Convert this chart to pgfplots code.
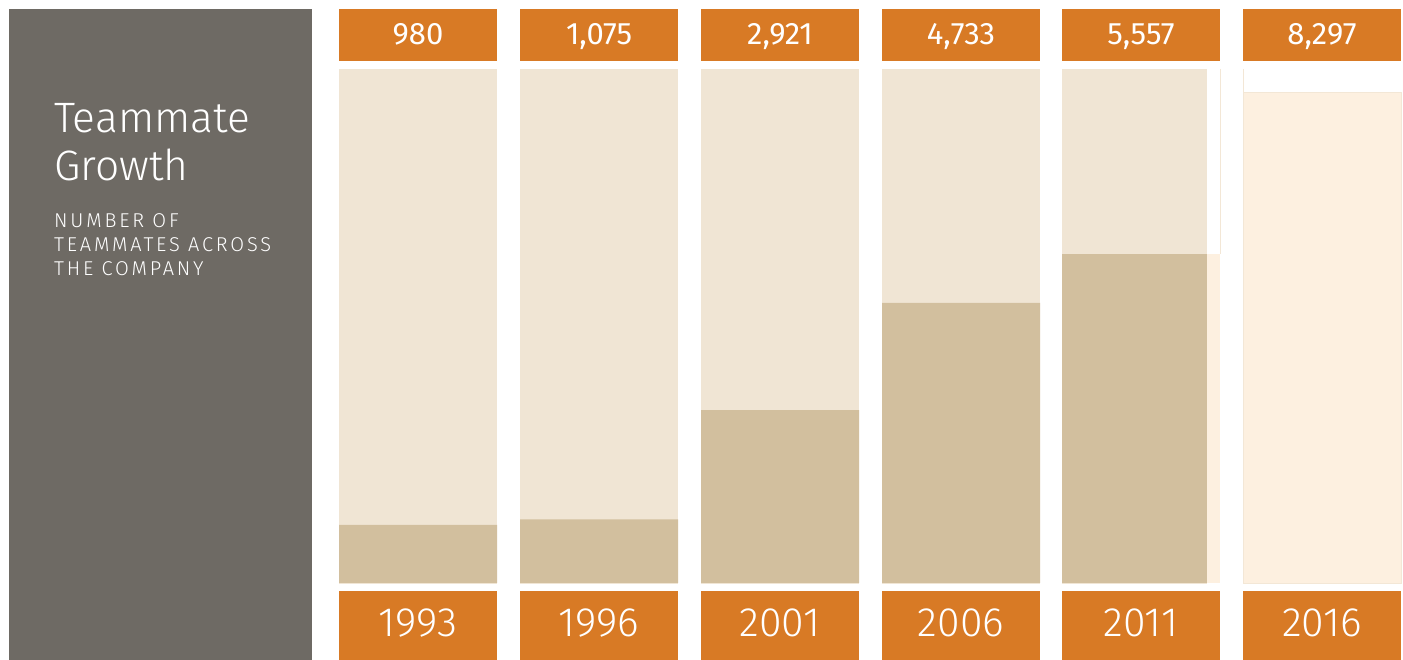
\documentclass[border=0pt]{standalone}
\usepackage{pgfplots}
\pgfplotsset{compat=1.18}
\usepackage{fontspec}
\setmainfont{Fira Sans}
\newfontfamily\lightfont{Fira Sans Light}
\newfontfamily\capsfont{Fira Sans Light}[LetterSpace=14]

\definecolor{panel}{HTML}{6E6A64}
\definecolor{orangebox}{HTML}{D87A25}
\definecolor{bgbar}{HTML}{F0E5D4}
\definecolor{darkbar}{HTML}{D2BF9E}
\definecolor{cream}{HTML}{FDF0E0}
\definecolor{creamedge}{HTML}{F3E7D6}

\begin{document}
\begin{tikzpicture}
% frame axis: one unit = one pixel of the reference, y measured from the top
\begin{axis}[
    name=frame,
    width=1403pt, height=660pt, scale only axis,
    xmin=0, xmax=1403, ymin=0, ymax=660,
    y dir=reverse,
    hide axis, clip=false,
]
    \fill[white] (axis cs:0,0) rectangle (axis cs:1403,660);
    % left panel
    \fill[panel] (axis cs:9,9) rectangle (axis cs:312,660);
    \node[anchor=base west, text=white, inner sep=0pt, font=\lightfont\fontsize{42.5}{48}\selectfont]
        at (axis cs:54,133) {Teammate};
    \node[anchor=base west, text=white, inner sep=0pt, font=\lightfont\fontsize{42.5}{48}\selectfont]
        at (axis cs:54,181) {Growth};
    \node[anchor=base west, text=white, inner sep=0pt, font=\capsfont\fontsize{20}{24}\selectfont]
        at (axis cs:54,228) {NUMBER OF};
    \node[anchor=base west, text=white, inner sep=0pt, font=\capsfont\fontsize{20}{24}\selectfont]
        at (axis cs:54,252) {TEAMMATES ACROSS};
    \node[anchor=base west, text=white, inner sep=0pt, font=\capsfont\fontsize{20}{24}\selectfont]
        at (axis cs:54,276) {THE COMPANY};

    % column backgrounds
    \fill[bgbar] (axis cs:339,69) rectangle (axis cs:497,584);
    \fill[bgbar] (axis cs:520,69) rectangle (axis cs:678,584);
    \fill[bgbar] (axis cs:701,69) rectangle (axis cs:859,584);
    \fill[bgbar] (axis cs:882,69) rectangle (axis cs:1040,584);
    \fill[bgbar] (axis cs:1062,69) rectangle (axis cs:1207,584);
    \draw[creamedge, line width=0.5pt] (axis cs:1220,69) -- (axis cs:1220,254);
    \draw[creamedge, line width=0.5pt] (axis cs:1243,69) -- (axis cs:1243,92);

    % header boxes
    \fill[orangebox] (axis cs:339,9) rectangle (axis cs:497,61);
    \fill[orangebox] (axis cs:520,9) rectangle (axis cs:678,61);
    \fill[orangebox] (axis cs:701,9) rectangle (axis cs:859,61);
    \fill[orangebox] (axis cs:882,9) rectangle (axis cs:1040,61);
    \fill[orangebox] (axis cs:1062,9) rectangle (axis cs:1220,61);
    \fill[orangebox] (axis cs:1243,9) rectangle (axis cs:1401,61);
    % footer boxes
    \fill[orangebox] (axis cs:339,591) rectangle (axis cs:497,660);
    \fill[orangebox] (axis cs:520,591) rectangle (axis cs:678,660);
    \fill[orangebox] (axis cs:701,591) rectangle (axis cs:859,660);
    \fill[orangebox] (axis cs:882,591) rectangle (axis cs:1040,660);
    \fill[orangebox] (axis cs:1062,591) rectangle (axis cs:1220,660);
    \fill[orangebox] (axis cs:1243,591) rectangle (axis cs:1401,660);

    % header values
    \tikzset{val/.style={anchor=base, text=white, inner sep=0pt, font=\fontsize{31}{33}\selectfont}}
    \node[val] at (axis cs:418,45) {980};
    \node[val] at (axis cs:599,45) {1,075};
    \node[val] at (axis cs:780,45) {2,921};
    \node[val] at (axis cs:961,45) {4,733};
    \node[val] at (axis cs:1141,45) {5,557};
    \node[val] at (axis cs:1322,45) {8,297};
    % years
    \tikzset{yr/.style={anchor=base, text=white, inner sep=0pt, font=\lightfont\fontsize{41}{44}\selectfont}}
    \node[yr] at (axis cs:418,636) {1993};
    \node[yr] at (axis cs:599,636) {1996};
    \node[yr] at (axis cs:780,636) {2001};
    \node[yr] at (axis cs:961,636) {2006};
    \node[yr] at (axis cs:1141,636) {2011};
    \node[yr] at (axis cs:1322,636) {2016};
\end{axis}

% data axis: teammates, 0 at the bar base, 8297 at the top of the 2016 bar
\begin{axis}[
    at={(frame.south west)}, anchor=south west,
    width=1403pt, height=660pt, scale only axis,
    xmin=0, xmax=1403, ymin=-1301.2, ymax=9851.6,
    hide axis, clip=false,
    ybar, bar shift=0pt,
]
    \addplot[fill=cream, draw=none, bar width=158] coordinates {(1141,5557)};
    \addplot[fill=darkbar, draw=none, bar width=158] coordinates {
        (418,980) (599,1075) (780,2921) (961,4733)
    };
    \addplot[fill=darkbar, draw=none, bar width=145] coordinates {(1134.5,5557)};
    \addplot[fill=cream, draw=creamedge, line width=0.5pt, bar width=158] coordinates {(1322,8297)};
\end{axis}
\end{tikzpicture}
\end{document}
